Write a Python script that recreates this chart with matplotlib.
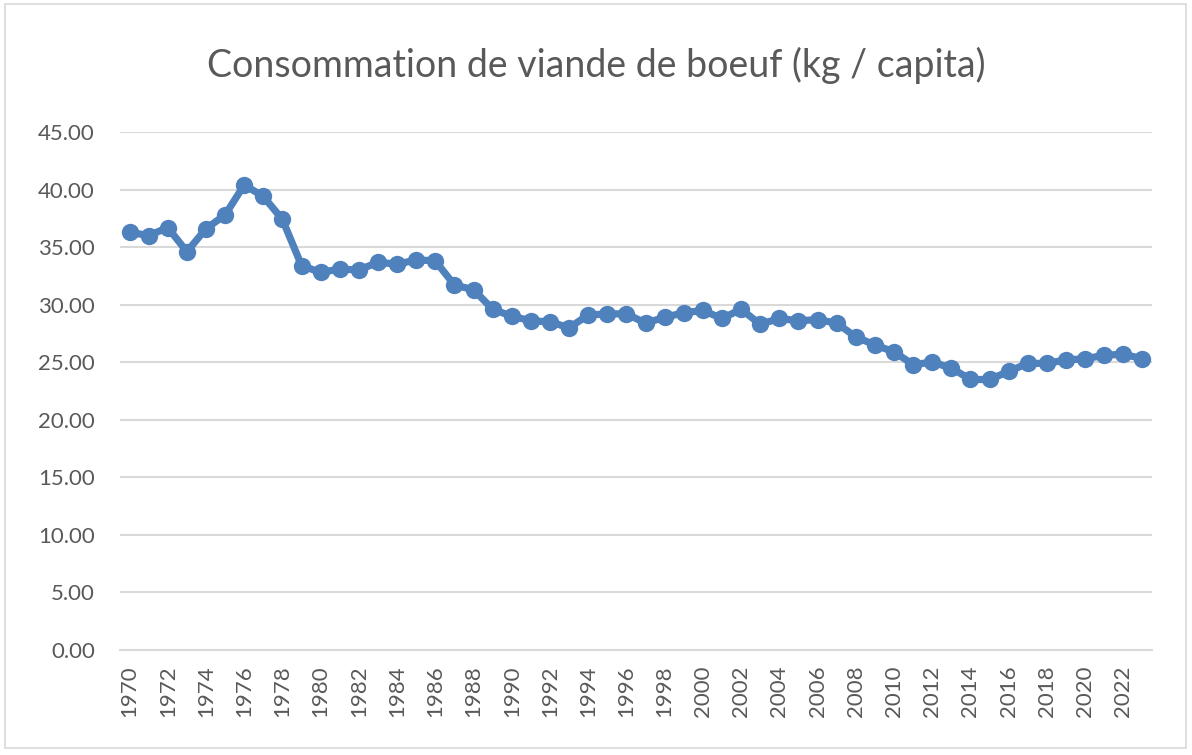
import matplotlib
matplotlib.use("Agg")
import matplotlib.pyplot as plt
from matplotlib.patches import Rectangle

# beef consumption, kg per capita
years = list(range(1970, 2024))
kg_per_capita = [
    36.3, 36.0, 36.7, 34.6, 36.6, 37.8, 40.4, 39.4, 37.4, 33.4,
    32.8, 33.1, 33.0, 33.7, 33.5, 33.9, 33.8, 31.7, 31.3, 29.6,
    29.0, 28.6, 28.5, 28.0, 29.1, 29.2, 29.2, 28.4, 28.9, 29.3,
    29.5, 28.8, 29.6, 28.3, 28.8, 28.6, 28.7, 28.4, 27.2, 26.5,
    25.9, 24.8, 25.0, 24.5, 23.5, 23.5, 24.2, 24.9, 24.9, 25.2,
    25.3, 25.6, 25.7, 25.3,
]
y_ticks = [0, 5, 10, 15, 20, 25, 30, 35, 40, 45]

blue = '#4F81BD'
grid_grey = '#D9D9D9'
text_grey = '#595959'

plt.rcParams['font.family'] = ['Lato', 'DejaVu Sans']

W, H = 1192, 755
fig = plt.figure(figsize=(W / 100, H / 100), dpi=100)
ax = fig.add_axes([120 / W, 1 - 650 / H, (1152 - 120) / W, (650 - 132) / H])

x = list(range(len(years)))
ax.plot(x, kg_per_capita, color=blue, lw=5.2, marker='o', ms=12.5,
        markeredgewidth=0, zorder=3, solid_joinstyle='round')

ax.set_xlim(-0.5, len(years) - 0.5)
ax.set_ylim(0, 45)
ax.set_yticks(y_ticks)
ax.set_yticklabels([f'{v:.2f}' for v in y_ticks])
ax.set_xticks(x[::2])
ax.set_xticklabels([str(y) for y in years[::2]], rotation=90)

ax.grid(axis='y', color=grid_grey, lw=1.5, zorder=0)
for side in ['top', 'right', 'left']:
    ax.spines[side].set_visible(False)
ax.spines['bottom'].set_color(grid_grey)
ax.spines['bottom'].set_linewidth(1.5)
ax.tick_params(axis='both', length=0, labelsize=16, colors=text_grey)
ax.tick_params(axis='y', pad=18)
ax.tick_params(axis='x', pad=11)

fig.text(0.5, 1 - 65 / H, 'Consommation de viande de boeuf (kg / capita)',
         ha='center', va='center', fontsize=27, color=text_grey)

# light frame around the whole chart
fig.patches.append(Rectangle((5 / W, 1 - 748 / H), (1186 - 5) / W, (748 - 4) / H,
                             transform=fig.transFigure, fill=False,
                             edgecolor=grid_grey, lw=1.2))

fig.savefig('out.png', dpi=100)
